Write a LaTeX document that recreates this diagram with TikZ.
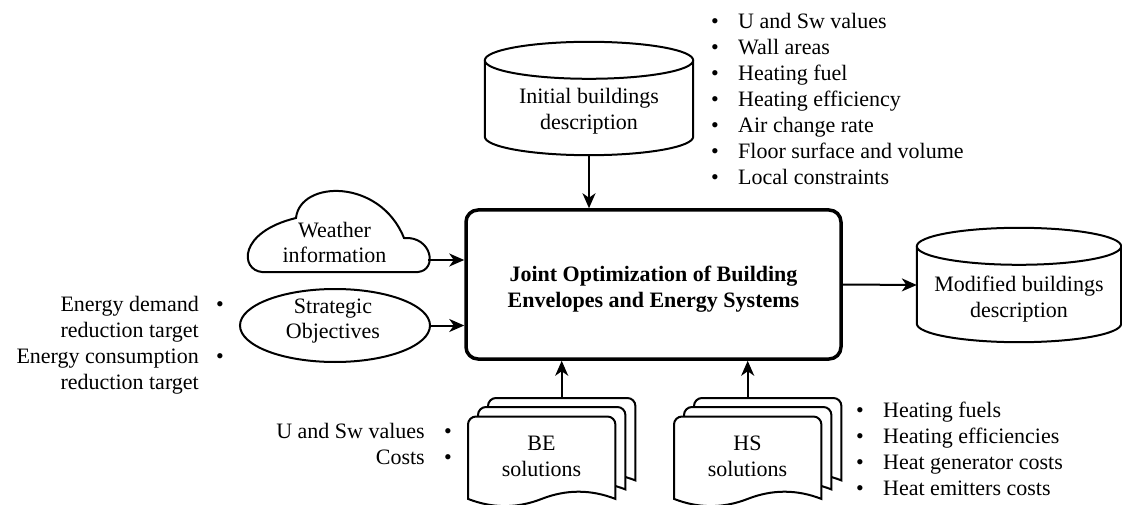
\documentclass[tikz,border=0pt]{standalone}
\usepackage{fontspec}
\setmainfont{Liberation Serif}
\usetikzlibrary{arrows.meta,calc,shapes.geometric}
\newcommand\cylshape[1]{%
  \filldraw[shp] let \p1=(#1.north west), \p2=(#1.south east), \n1={(\x2-\x1)/2} in
    (\x1,\y1-18.5pt) -- (\x1,\y2+18.5pt)
    arc[start angle=180,end angle=360,x radius=\n1*1pt,y radius=18.5pt]
    -- (\x2,\y1-18.5pt);
  \filldraw[shp] let \p1=(#1.north west), \p2=(#1.south east), \n1={(\x2-\x1)/2} in
    (\x1+\n1*1pt,\y1-18.5pt) ellipse[x radius=\n1*1pt,y radius=18.5pt];
}
\newcommand\docshape[1]{%
  \filldraw[shp] let \p1=(#1.north west), \p2=(#1.south east), \n1={\x2-\x1} in
    (\x1,\y2) -- (\x1,\y1-8pt) arc[start angle=180,end angle=90,radius=8pt]
    -- (\x2-8pt,\y1) arc[start angle=90,end angle=0,radius=8pt]
    -- (\x2,\y2)
    .. controls ({\x2-\n1*1pt/6},{\y2+9.6pt}) and ({\x2-\n1*1pt/3},{\y2+9.6pt}) .. ({\x1+\n1*1pt/2},\y2)
    .. controls ({\x1+\n1*1pt/3},{\y2-9.6pt}) and ({\x1+\n1*1pt/6},{\y2-9.6pt}) .. (\x1,\y2) -- cycle;
}
\begin{document}
\begin{tikzpicture}[x=1pt,y=-1pt,
  every node/.style={font=\fontsize{22}{26}\selectfont, inner sep=0pt},
  bf/.style={font=\fontsize{22}{26}\selectfont\bfseries},
  shp/.style={line width=2pt, draw=black, fill=white},
  arr/.style={line width=2pt, -{Stealth[length=15pt,width=13pt,inset=4.5pt]}},
  docnode/.style={anchor=north west, minimum width=147pt, minimum height=82pt},
  txt/.style={anchor=base}
]
\useasboundingbox (0,0) rectangle (1122,505);

% main box
\node[draw, line width=3.5pt, rounded corners=12pt, minimum width=375pt, minimum height=149pt] (box) at (653.5,284.5) {};
\node[txt, bf] (boxa) at (653.5,281) {Joint Optimization of Building};
\node[txt, bf] (boxb) at (653.5,307) {Envelopes and Energy Systems};

% initial buildings description
\node[minimum width=208pt, minimum height=113pt] (init) at (589,98.5) {};
\cylshape{init}
\node[txt] (inita) at (589,103.5) {Initial buildings};
\node[txt] (initb) at (589,129.5) {description};

% modified buildings description
\node[minimum width=204pt, minimum height=114pt] (mod) at (1019,285) {};
\cylshape{mod}
\node[txt] (moda) at (1019,291.5) {Modified buildings};
\node[txt] (modb) at (1019,317) {description};

% weather cloud
\filldraw[shp] (262,272) .. controls (240,270) and (238,232) .. (296,218)
  .. controls (300,180) and (380,178) .. (404,238)
  .. controls (432,236) and (438,270) .. (418,272) -- cycle;
\node[txt] (wxa) at (334.5,237) {Weather};
\node[txt] (wxb) at (334.5,262) {information};
\coordinate (wxr) at (428,260);

% strategic objectives
\node[ellipse, shp, minimum width=190pt, minimum height=73pt] (so) at (335,325.5) {};
\node[txt] (soa) at (333,313) {Strategic};
\node[txt] (sob) at (333,338.5) {Objectives};

% BE solutions
\node[docnode] (be3) at (488,398) {};
\node[docnode] (be2) at (478,407) {};
\node[docnode] (be1) at (468,416.5) {};
\docshape{be3}\docshape{be2}\docshape{be1}
\node[txt] (bea) at (541.5,450) {BE};
\node[txt] (beb) at (541.5,476) {solutions};

% HS solutions
\node[docnode] (hs3) at (694,398) {};
\node[docnode] (hs2) at (684,407) {};
\node[docnode] (hs1) at (674,416.5) {};
\docshape{hs3}\docshape{hs2}\docshape{hs1}
\node[txt] (hsa) at (747.5,450) {HS};
\node[txt] (hsb) at (747.5,476) {solutions};

% connectors
\draw[arr] (init.south) -- (init.south |- box.north);
\draw[arr] (wxr) -- (wxr -| box.west);
\draw[arr] (so.east) -- (so.east -| box.west);
\draw[arr] (box.east) -- (mod.west);
\draw[arr] (be3.north) -- (be3.north |- box.south);
\draw[arr] (hs1.north |- hs3.north) -- (hs1.north |- box.south);

% top list
\foreach \t [count=\i] in {U and Sw values, Wall areas, Heating fuel, Heating efficiency, Air change rate, Floor surface and volume, Local constraints}{
  \node[anchor=base west] (tl\i) at (738,{29+26*(\i-1)}) {\t};
  \node[anchor=base] (tb\i) at (715,{29+26*(\i-1)}) {\textbullet};
}

% left list
\node[anchor=base east] (ll1) at (199,311) {Energy demand};
\node[anchor=base east] (ll2) at (199,337) {reduction target};
\node[anchor=base east] (ll3) at (199,363) {Energy consumption};
\node[anchor=base east] (ll4) at (199,389) {reduction target};
\node[anchor=base] (lb1) at (220,311) {\textbullet};
\node[anchor=base] (lb2) at (220,363) {\textbullet};

% BE list
\node[anchor=base east] (bl1) at (425,438) {U and Sw values};
\node[anchor=base east] (bl2) at (425,464) {Costs};
\node[anchor=base] (bb1) at (448,438) {\textbullet};
\node[anchor=base] (bb2) at (448,464) {\textbullet};

% HS list
\foreach \t [count=\i] in {Heating fuels, Heating efficiencies, Heat generator costs, Heat emitters costs}{
  \node[anchor=base west] (hl\i) at (883,{417+26*(\i-1)}) {\t};
  \node[anchor=base] (hb\i) at (860,{417+26*(\i-1)}) {\textbullet};
}
\end{tikzpicture}
\end{document}
